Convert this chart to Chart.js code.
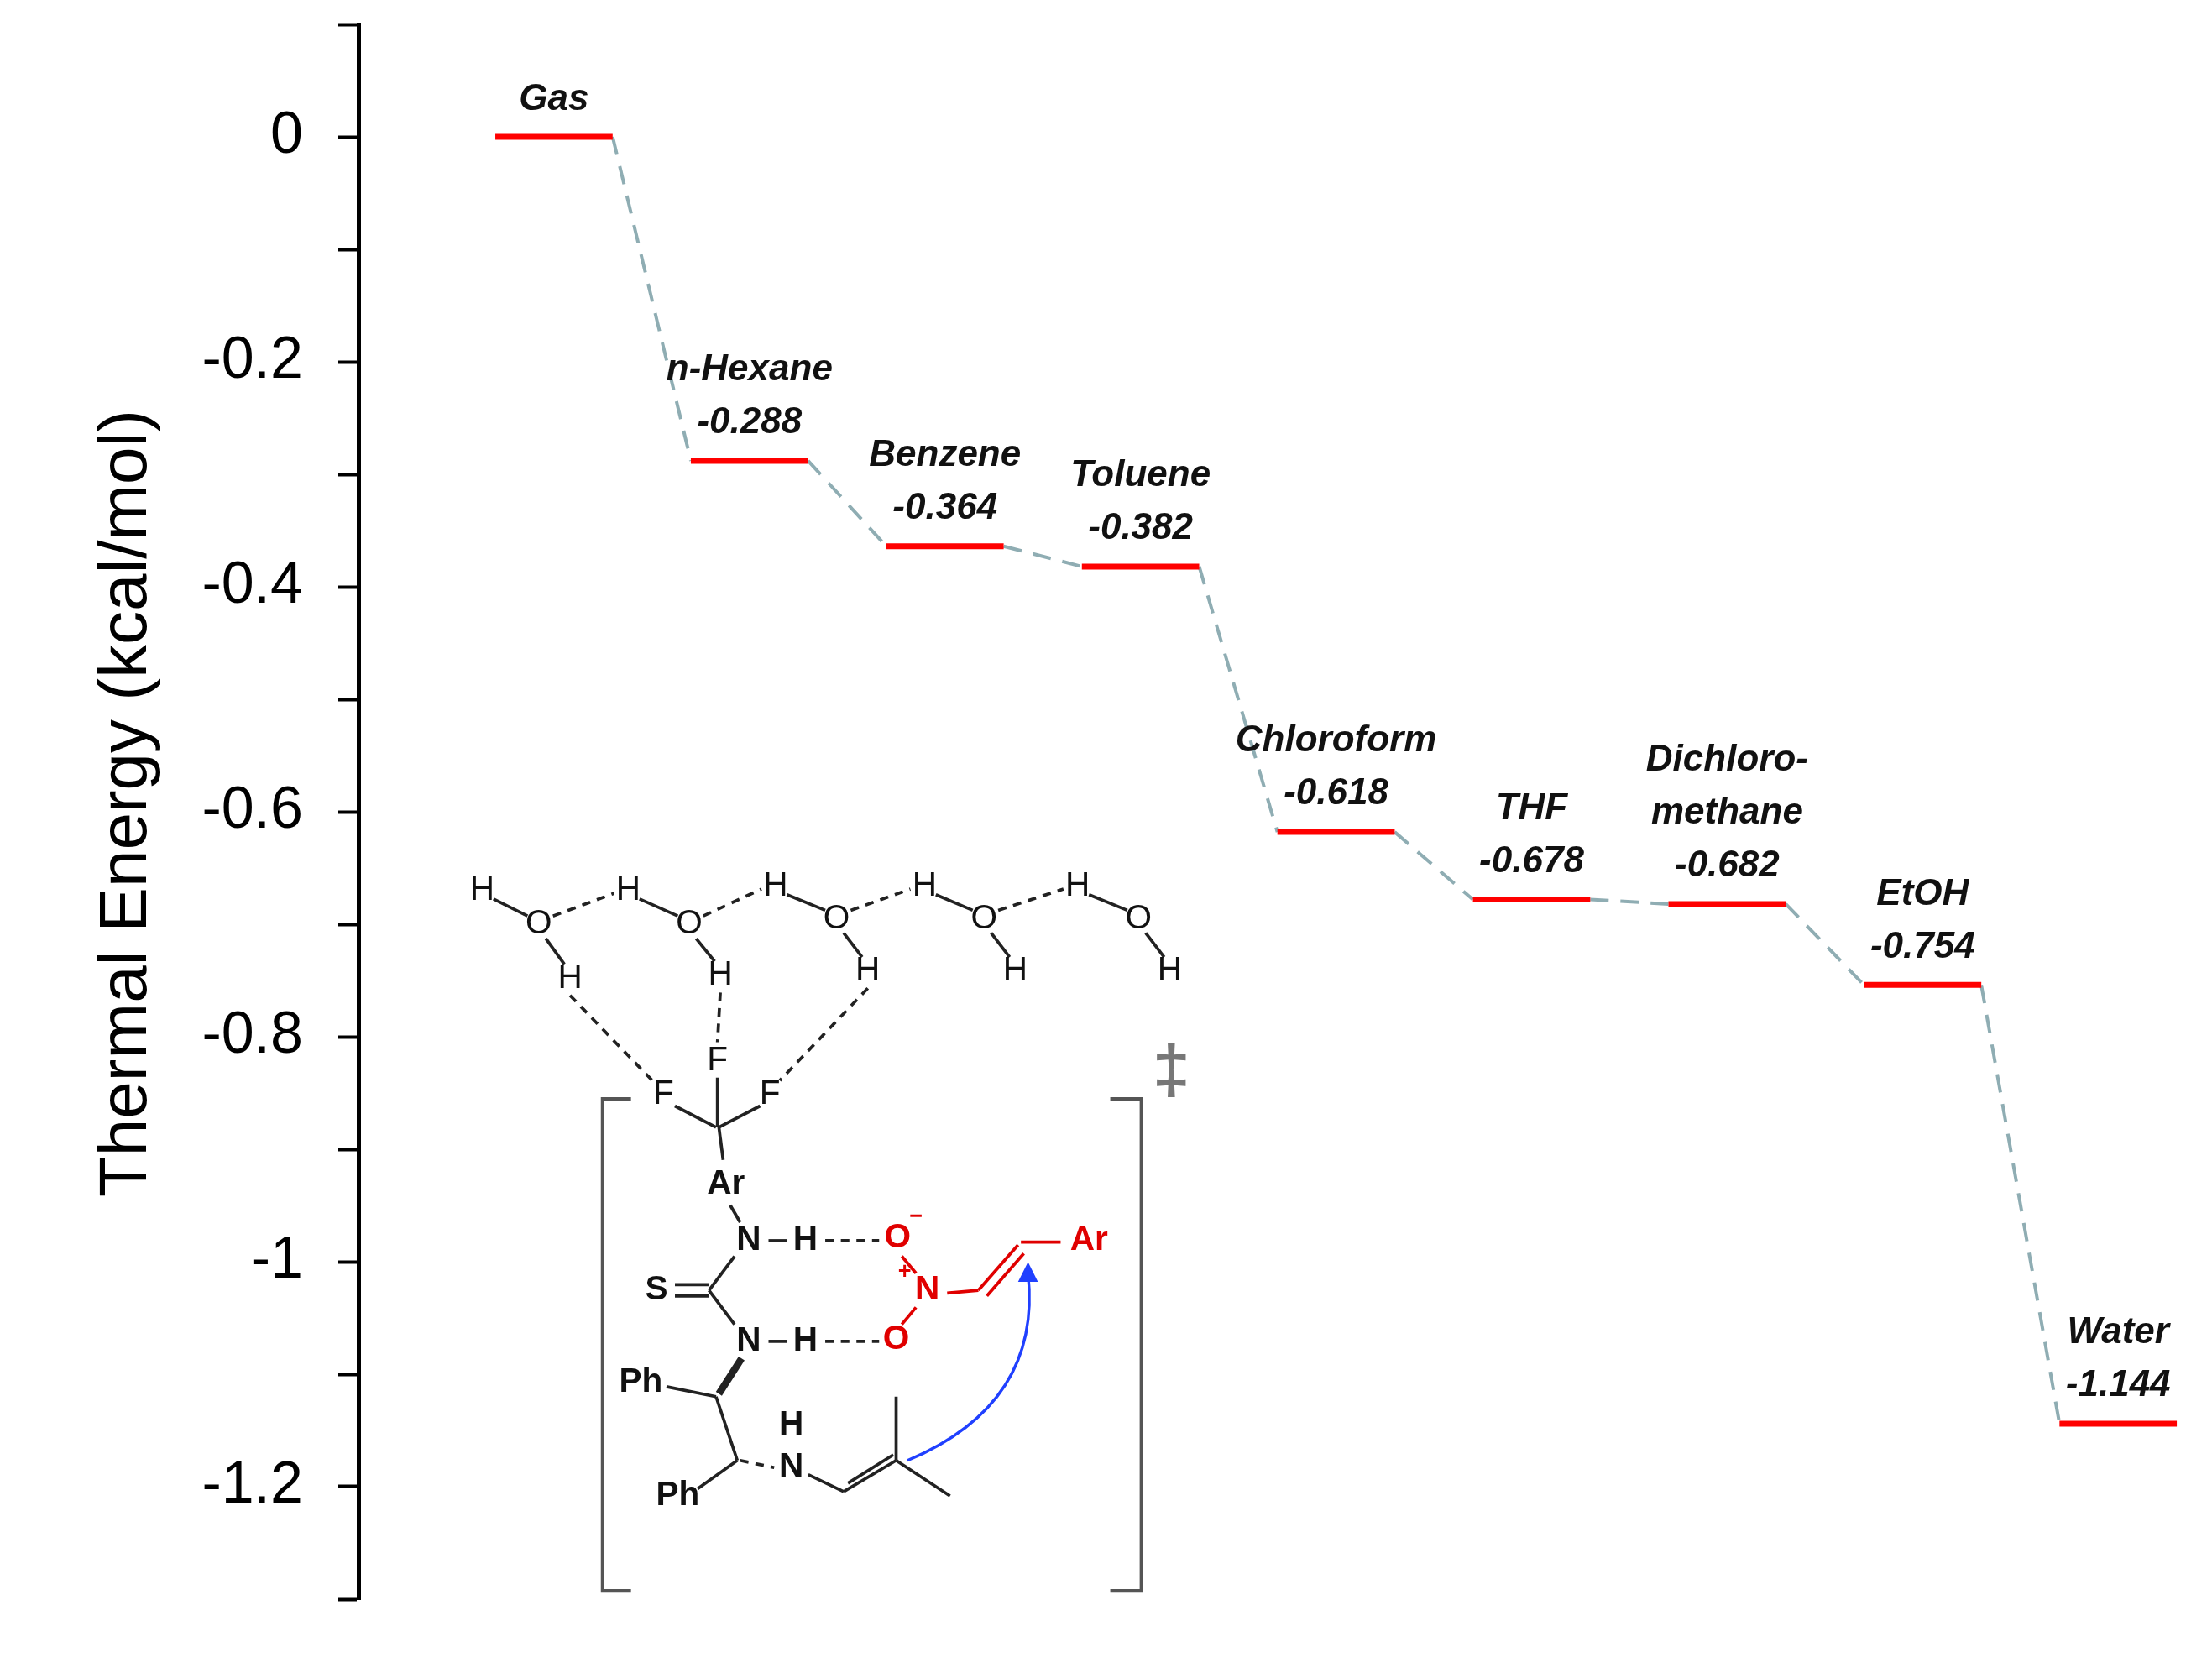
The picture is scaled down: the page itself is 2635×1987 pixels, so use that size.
<!DOCTYPE html>
<html><head><meta charset="utf-8">
<script src="https://cdn.jsdelivr.net/npm/chart.js@4"></script>
<style>html,body{margin:0;padding:0;background:#fff}</style>
</head><body>
<canvas id="c" width="2635" height="1987"></canvas>
<script>
const solvents = ["Gas","n-Hexane","Benzene","Toluene","Chloroform","THF","Dichloro-\nmethane","EtOH","Water"];
const energies = [0,-0.288,-0.364,-0.382,-0.618,-0.678,-0.682,-0.754,-1.144];
const valueLabels = ["","-0.288","-0.364","-0.382","-0.618","-0.678","-0.682","-0.754","-1.144"];
const tickValues = [0,-0.2,-0.4,-0.6,-0.8,-1,-1.2];

const HW = 0.3;
const datasets = energies.map((v,i)=>({
  data:[{x:i-HW,y:v},{x:i+HW,y:v}], borderColor:'#ff0000', borderWidth:7, pointRadius:0, order:0
}));
const conn = [];
energies.forEach((v,i)=>{ if(i<energies.length-1){ conn.push({x:i+HW,y:v}); conn.push({x:i+1-HW,y:energies[i+1]}); conn.push({x:NaN,y:NaN}); }});
datasets.push({data:conn, borderColor:'#8fadb3', borderWidth:4, borderDash:[22,14], pointRadius:0, spanGaps:false, order:1});

const S = 2635/1560;
const plugin = {
  id:'extra',
  afterDatasetsDraw(chart){
    const ctx = chart.ctx, xs = chart.scales.x, ys = chart.scales.y;
    ctx.save();
    ctx.fillStyle='#111'; ctx.textAlign='center'; ctx.textBaseline='middle';
    ctx.font='italic bold 44px "Liberation Sans", Arial';
    energies.forEach((v,i)=>{
      const cx = xs.getPixelForValue(i), cy = ys.getPixelForValue(v);
      let y = cy-45;
      if(valueLabels[i]){ ctx.fillText(valueLabels[i],cx,y); y-=63; } else { y = cy-44; }
      const lines = solvents[i].split('\n').reverse();
      lines.forEach(l=>{ ctx.fillText(l,cx,y); y-=63; });
    });
    ctx.save();
    ctx.translate(152,(ys.top+ys.bottom)/2-10);
    ctx.rotate(-Math.PI/2);
    ctx.font='80px "Liberation Sans", Arial';
    ctx.fillStyle='#000';
    ctx.fillText('Thermal Energy (kcal/mol)',0,0);
    ctx.restore();
    ctx.scale(S,S);
    const T=(t,x,y,col,f)=>{ctx.fillStyle=col||'#111';ctx.font=f||'bold 24px "Liberation Sans", Arial';ctx.fillText(t,x,y);};
    const L=(x1,y1,x2,y2,col,dash,w)=>{ctx.strokeStyle=col||'#222';ctx.lineWidth=w||2.2;ctx.setLineDash(dash?[6,5]:[]);ctx.beginPath();ctx.moveTo(x1,y1);ctx.lineTo(x2,y2);ctx.stroke();};
    const waters=[[340,628,380,652,402,690],[443,628,486,652,508,688],[547,625,590,648,612,685],[652,625,694,648,716,685],[760,625,803,648,825,685]];
    const nf='24px "Liberation Sans", Arial';
    waters.forEach((w,k)=>{
      L(w[0]+8,w[1]+6,w[2]-8,w[3]-6); L(w[2]+5,w[3]+10,w[4]-4,w[5]-10);
      T('H',w[0],w[1],null,nf); T('O',w[2],w[3],null,nf); T('H',w[4],w[5],null,nf);
      if(k<4){ const n=waters[k+1]; L(w[2]+10,w[3]-6,n[0]-10,n[1]+2,null,true); }
    });
    L(402,702,460,762,null,true); L(508,700,506,735,null,true); L(612,697,550,762,null,true);
    T('F',468,772,null,nf); T('F',506,748,null,nf); T('F',543,772,null,nf);
    L(476,780,505,795); L(506,760,506,795); L(536,780,507,795); L(507,795,510,818);
    T('Ar',512,835); L(515,850,522,862);
    T('N',528,875); L(542,875,555,875); T('H',568,875); L(582,875,620,875,null,true);
    T('O',633,873,'#e00000'); T('−',646,858,'#e00000','bold 16px "Liberation Sans"');
    L(636,886,646,898,'#e00000'); T('N',654,910,'#e00000'); T('+',638,897,'#e00000','bold 16px "Liberation Sans"');
    L(646,922,636,934,'#e00000'); T('O',632,945,'#e00000');
    L(668,912,690,910,'#e00000'); L(690,910,718,878,'#e00000'); L(696,914,722,884,'#e00000'); L(720,876,748,876,'#e00000');
    T('Ar',768,875,'#e00000');
    T('S',463,910); L(476,906,500,906); L(476,914,500,914); L(500,910,518,886); L(500,910,518,934);
    T('N',528,946); L(542,946,555,946); T('H',568,946); L(582,946,620,946,null,true);
    L(523,958,507,983,null,false,5); T('Ph',452,975); L(470,978,505,985);
    L(505,985,520,1030); L(520,1030,492,1050); T('Ph',478,1055);
    L(522,1030,546,1035,null,true); T('N',558,1035); T('H',558,1005); L(570,1040,595,1052);
    L(595,1052,632,1030); L(598,1046,630,1026); L(632,1030,632,985); L(632,1030,670,1055);
    ctx.strokeStyle='#2040ff'; ctx.setLineDash([]); ctx.lineWidth=2; ctx.beginPath(); ctx.moveTo(640,1030); ctx.quadraticCurveTo(735,990,725,898); ctx.stroke();
    ctx.fillStyle='#2040ff'; ctx.beginPath(); ctx.moveTo(725,890); ctx.lineTo(718,904); ctx.lineTo(732,904); ctx.fill();
    ctx.strokeStyle='#555'; ctx.lineWidth=2.5;
    ctx.beginPath(); ctx.moveTo(445,775); ctx.lineTo(425,775); ctx.lineTo(425,1122); ctx.lineTo(445,1122); ctx.stroke();
    ctx.beginPath(); ctx.moveTo(783,775); ctx.lineTo(805,775); ctx.lineTo(805,1122); ctx.lineTo(783,1122); ctx.stroke();
    T('‡',826,757,'#777','bold 48px "Liberation Sans"');
    ctx.restore();
  }
};

new Chart(document.getElementById('c'),{
  type:'line',
  data:{datasets},
  options:{
    responsive:false, devicePixelRatio:1, animation:false,
    layout:{padding:{top:29,bottom:82,left:0,right:0}},
    plugins:{legend:{display:false},tooltip:{enabled:false}},
    scales:{
      x:{type:'linear',min:-1,max:8.48,display:false},
      y:{min:-1.3,max:0.1,
        afterFit(s){s.width=427; s.paddingTop=0; s.paddingBottom=0;},
        afterBuildTicks(s){ const t=[]; for(let k=1;k>=-13;k--) t.push({value:k/10}); s.ticks=t; },
        border:{color:'#000',width:5},
        grid:{drawOnChartArea:false,drawTicks:true,tickLength:24,tickWidth:4,tickColor:'#000'},
        ticks:{padding:42,color:'#000',font:{size:70,family:'"Liberation Sans", Arial'},
          callback:(v)=>{ const m=tickValues.find(t=>Math.abs(t-v)<1e-6); return m===undefined?'':String(m); }}
      }
    }
  },
  plugins:[plugin]
});
</script>
</body></html>
